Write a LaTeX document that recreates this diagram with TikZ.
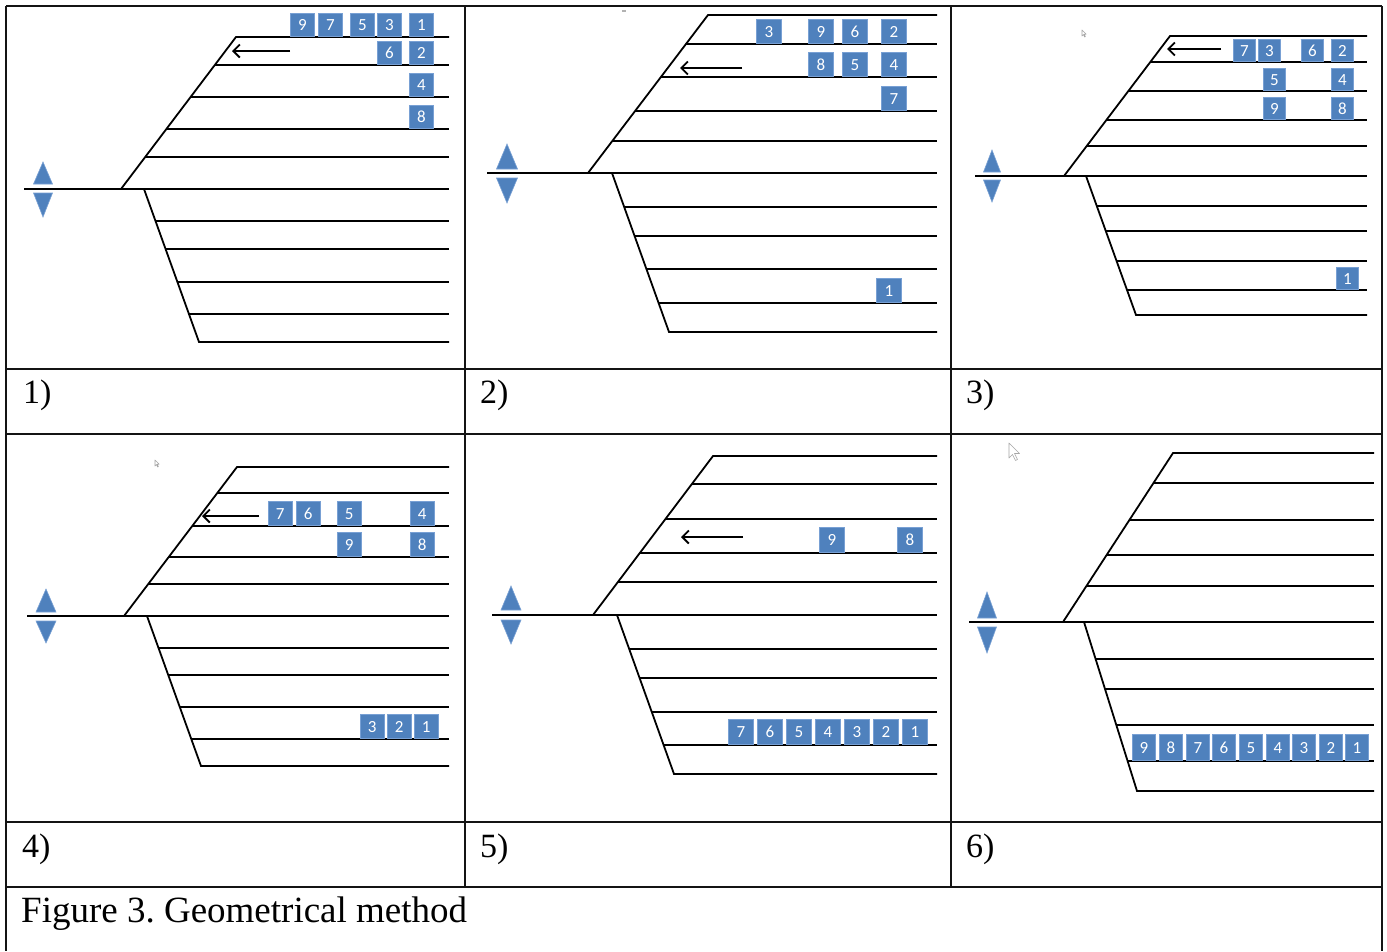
\documentclass[tikz,border=0pt]{standalone}
\usepackage{fontspec}
\setmainfont{Liberation Serif}
\newfontfamily\boxfont{Carlito}
\usetikzlibrary{arrows.meta}
\frenchspacing

\definecolor{boxblue}{RGB}{79,129,189}
\definecolor{boxedge}{RGB}{120,160,212}
\definecolor{ruleink}{RGB}{20,20,20}

% one fan of rails: diagonal from the junction (#1,#2) to the end corner (#3,#4),
% the end rail out to x=#5, and the rails listed in #6 starting on the diagonal
\newcommand\railset[6]{%
  \draw[track] (#1,#2) -- (#3,#4) -- (#5,#4);
  \foreach \yy in {#6}{%
    \pgfmathsetmacro\xx{#1+(\yy-#2)*(#3-#1)/(#4-#2)}
    \draw[track] (\xx,\yy) -- (#5,\yy);
  }%
}
% up/down triangle pair centred at x=#1, half width #6
\newcommand\updown[6]{%
  \fill[tri] (#1-#6,#3) -- (#1+#6,#3) -- (#1,#2) -- cycle;
  \fill[tri] (#1-#6,#4) -- (#1+#6,#4) -- (#1,#5) -- cycle;
}
% small mouse pointer with its tip at (#1,#2), scaled by #3
\newcommand\pointer[3]{%
  \draw[gray!70, line width=0.6pt, fill=white, line join=round]
    (#1,#2) -- ++(0,15*#3) -- ++(3.5*#3,-3.5*#3) -- ++(3*#3,6*#3) -- ++(2*#3,-1*#3)
    -- ++(-3*#3,-6*#3) -- ++(5*#3,0) -- cycle;
}

\begin{document}
\begin{tikzpicture}[x=1pt, y=-1pt,
  track/.style={line width=1.8pt, draw=black, line join=miter},
  tri/.style={fill=boxblue, draw=boxedge, line width=0.6pt},
  bx/.style={fill=boxblue, draw=boxedge, line width=0.7pt, text=white,
    font=\boxfont\fontsize{17}{17}\selectfont, inner sep=0pt, anchor=south west},
  arr/.style={line width=1.9pt, -{Straight Barb[length=6.5pt,width=13pt]}},
  grid/.style={line width=2pt, draw=ruleink},
  lab/.style={font=\fontsize{34}{34}\selectfont, anchor=base west, inner sep=0pt}]

\useasboundingbox (0,0) rectangle (1387,951);
\fill[white] (0,0) rectangle (1387,951);

% ---------------- table rules ----------------
\draw[grid] (6,6) -- (1382,6);
\draw[grid] (6,369) -- (1382,369);
\draw[grid] (6,434) -- (1382,434);
\draw[grid] (6,822) -- (1382,822);
\draw[grid] (6,887) -- (1382,887);
\draw[grid] (6,6) -- (6,951);
\draw[grid] (1382,6) -- (1382,951);
\draw[grid] (465,6) -- (465,887);
\draw[grid] (951,6) -- (951,887);

% ---------------- panel labels ----------------
\node[lab] (l1) at (23,403) {1)};
\node[lab] (l2) at (480,403) {2)};
\node[lab] (l3) at (966,403) {3)};
\node[lab] (l4) at (22,857) {4)};
\node[lab] (l5) at (480,857) {5)};
\node[lab] (l6) at (966,857) {6)};
\node[lab, font=\fontsize{37}{37}\selectfont] (cap) at (21,922) {Figure 3. Geometrical method};

% ---------------- panel 1 ----------------
\draw[track] (24,189) -- (449,189);
\railset{121}{189}{236}{37}{449}{65,97,129,157}
\railset{144}{189}{199}{342}{449}{221,249,282,314}
\updown{43}{162}{184}{193}{217}{9.5}
\begin{scope}[bx/.append style={minimum width=24pt, minimum height=23pt}]
  \foreach \n/\x in {9/290,7/318,5/350,3/377,1/409} \node[bx] (a\n) at (\x,37) {\n};
  \foreach \n/\x in {6/377,2/409} \node[bx] (a\n) at (\x,65) {\n};
  \node[bx] (a4) at (409,97) {4};
  \node[bx] (a8) at (409,129) {8};
\end{scope}
\coordinate (a-from) at (290,51);
\coordinate (a-to) at (232,51);
\draw[arr] (a-from) -- (a-to);

% ---------------- panel 2 ----------------
\draw[track] (487,173) -- (937,173);
\railset{588}{173}{708}{15}{937}{44,77,111,141}
\railset{612}{173}{669}{332}{937}{207,236,269,303}
\updown{507}{144}{169}{178}{203}{10.5}
\begin{scope}[bx/.append style={minimum width=25pt, minimum height=24pt}]
  \foreach \n/\x in {3/756,9/808,6/842,2/881} \node[bx] (b\n) at (\x,44) {\n};
  \foreach \n/\x in {8/808,5/842,4/881} \node[bx] (b\n) at (\x,77) {\n};
  \node[bx] (b7) at (881,111) {7};
  \node[bx] (b1) at (876,303) {1};
\end{scope}
\coordinate (b-from) at (742,68);
\coordinate (b-to) at (680,68);
\draw[arr] (b-from) -- (b-to);
\fill[gray!60] (622,10) rectangle (626,12);

% ---------------- panel 3 ----------------
\draw[track] (975,176) -- (1367,176);
\railset{1064}{176}{1170}{36}{1367}{62,91,120,146}
\railset{1086}{176}{1136}{315}{1367}{206,231,261,290}
\updown{992}{150}{172}{180}{202}{8.5}
\begin{scope}[bx/.append style={minimum width=22pt, minimum height=22pt}]
  \foreach \n/\x in {7/1233,3/1258,6/1301,2/1331} \node[bx] (c\n) at (\x,62) {\n};
  \foreach \n/\x in {5/1263,4/1331} \node[bx] (c\n) at (\x,91) {\n};
  \foreach \n/\x in {9/1263,8/1331} \node[bx] (c\n) at (\x,120) {\n};
  \node[bx] (c1) at (1336,290) {1};
\end{scope}
\coordinate (c-from) at (1221,49);
\coordinate (c-to) at (1167,49);
\draw[arr] (c-from) -- (c-to);
\pointer{1082}{30}{0.4}

% ---------------- panel 4 ----------------
\draw[track] (27,616) -- (449,616);
\railset{124}{616}{237}{467}{449}{493,526,557,584}
\railset{147}{616}{201}{766}{449}{648,675,707,739}
\updown{46}{589}{612}{621}{643}{10}
\begin{scope}[bx/.append style={minimum width=23.5pt, minimum height=24pt}]
  \foreach \n/\x in {7/268,6/296,5/337,4/410} \node[bx] (d\n) at (\x,526) {\n};
  \foreach \n/\x in {9/337,8/410} \node[bx] (d\n) at (\x,557) {\n};
  \foreach \n/\x in {3/360,2/387,1/414} \node[bx] (d\n) at (\x,739) {\n};
\end{scope}
\coordinate (d-from) at (259,516);
\coordinate (d-to) at (202,516);
\draw[arr] (d-from) -- (d-to);
\pointer{155}{460}{0.4}

% ---------------- panel 5 ----------------
\draw[track] (492,615) -- (937,615);
\railset{593}{615}{713}{456}{937}{484,519,553,582}
\railset{617}{615}{674}{774}{937}{649,678,712,745}
\updown{511}{586}{610}{620}{644}{10}
\begin{scope}[bx/.append style={minimum width=25pt, minimum height=25pt}]
  \foreach \n/\x in {9/819,8/897} \node[bx] (e\n) at (\x,553) {\n};
  \foreach \n/\x in {7/728,6/757,5/786,4/815,3/844,2/873,1/902} \node[bx] (e\n) at (\x,745) {\n};
\end{scope}
\coordinate (e-from) at (743,537);
\coordinate (e-to) at (681,537);
\draw[arr] (e-from) -- (e-to);

% ---------------- panel 6 ----------------
\draw[track] (969,622) -- (1374,622);
\railset{1063}{622}{1173}{453}{1374}{483,520,555,586}
\railset{1084}{622}{1137}{791}{1374}{659,689,725,761}
\updown{987}{592}{618}{627}{653}{9.5}
\begin{scope}[bx/.append style={minimum width=23pt, minimum height=26pt}]
  \foreach \n/\x in {9/1132,8/1159,7/1186,6/1212,5/1239,4/1266,3/1292,2/1319,1/1345}
    \node[bx] (f\n) at (\x,761) {\n};
\end{scope}
\pointer{1009}{443}{1}

\end{tikzpicture}
\end{document}
